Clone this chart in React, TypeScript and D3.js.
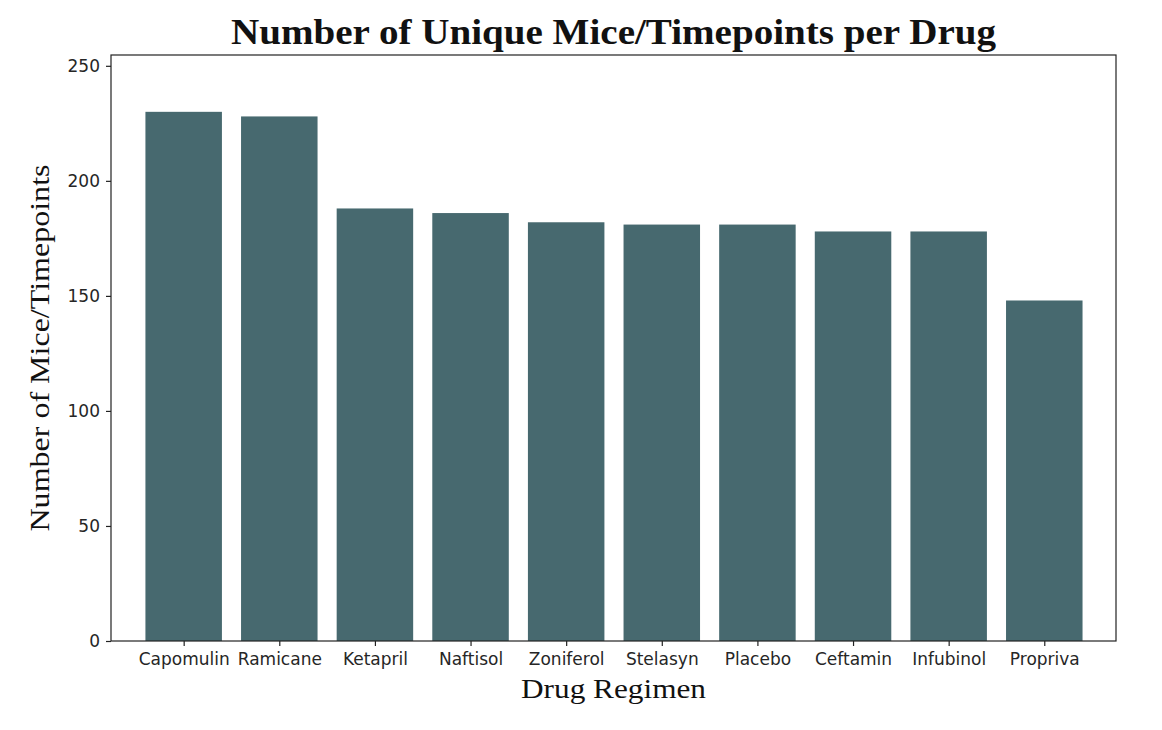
import React, { useEffect, useRef } from 'react';
import * as d3 from 'd3';

const drugs = [
  'Capomulin',
  'Ramicane',
  'Ketapril',
  'Naftisol',
  'Zoniferol',
  'Stelasyn',
  'Placebo',
  'Ceftamin',
  'Infubinol',
  'Propriva',
];
const counts = [230, 228, 188, 186, 182, 181, 181, 178, 178, 148];
const yTicks = [0, 50, 100, 150, 200, 250];

const W = 1162;
const H = 730;
const box = { left: 111, right: 1116, top: 55, bottom: 641 };
const barColor = '#47696f';
const serif = '"Liberation Serif", "DejaVu Serif", serif';
const sans = '"DejaVu Sans", sans-serif';

export default function App() {
  const ref = useRef<SVGSVGElement>(null);

  useEffect(() => {
    document.body.style.margin = '0';
    if (!ref.current) return;
    const svg = d3.select(ref.current);
    svg.selectAll('*').remove();

    const x = d3.scaleLinear().domain([-0.76, 9.75]).range([box.left, box.right]);
    const y = d3.scaleLinear().domain([0, 254.7]).range([box.bottom, box.top]);
    const barW = 0.8;

    svg
      .append('g')
      .selectAll('rect')
      .data(counts)
      .enter()
      .append('rect')
      .attr('x', (_, i) => x(i - barW / 2))
      .attr('width', x(barW) - x(0))
      .attr('y', (d) => y(d))
      .attr('height', (d) => y(0) - y(d))
      .attr('fill', barColor);

    // frame
    svg
      .append('rect')
      .attr('x', box.left)
      .attr('y', box.top)
      .attr('width', box.right - box.left)
      .attr('height', box.bottom - box.top)
      .attr('fill', 'none')
      .attr('stroke', '#222')
      .attr('stroke-width', 1.2);

    const xAxis = svg
      .append('g')
      .attr('transform', `translate(0, ${box.bottom})`)
      .call(
        d3
          .axisBottom(x)
          .tickValues(d3.range(drugs.length))
          .tickFormat((d) => drugs[d as number])
          .tickSize(5)
          .tickPadding(7)
      );
    xAxis.select('.domain').remove();
    xAxis.selectAll('line').attr('stroke', '#222').attr('stroke-width', 1.2);
    xAxis
      .selectAll('text')
      .attr('font-family', sans)
      .attr('font-size', 17)
      .attr('fill', '#262626');

    const yAxis = svg
      .append('g')
      .attr('transform', `translate(${box.left}, 0)`)
      .call(d3.axisLeft(y).tickValues(yTicks).tickSize(5).tickPadding(6));
    yAxis.select('.domain').remove();
    yAxis.selectAll('line').attr('stroke', '#222').attr('stroke-width', 1.2);
    yAxis
      .selectAll('text')
      .attr('font-family', sans)
      .attr('font-size', 17)
      .attr('fill', '#262626');

    // title
    svg
      .append('text')
      .attr('x', (box.left + box.right) / 2)
      .attr('y', 44)
      .attr('text-anchor', 'middle')
      .attr('font-family', serif)
      .attr('font-weight', 'bold')
      .attr('font-size', 35)
      .attr('textLength', 765)
      .attr('lengthAdjust', 'spacingAndGlyphs')
      .attr('fill', '#111')
      .text('Number of Unique Mice/Timepoints per Drug');

    // x label
    svg
      .append('text')
      .attr('x', (box.left + box.right) / 2)
      .attr('y', 698)
      .attr('text-anchor', 'middle')
      .attr('font-family', serif)
      .attr('font-size', 27)
      .attr('textLength', 185)
      .attr('lengthAdjust', 'spacingAndGlyphs')
      .attr('fill', '#111')
      .text('Drug Regimen');

    // y label
    svg
      .append('text')
      .attr('transform', `translate(49, ${(box.top + box.bottom) / 2}) rotate(-90)`)
      .attr('text-anchor', 'middle')
      .attr('font-family', serif)
      .attr('font-size', 27)
      .attr('textLength', 367)
      .attr('lengthAdjust', 'spacingAndGlyphs')
      .attr('fill', '#111')
      .text('Number of Mice/Timepoints');
  }, []);

  return <svg ref={ref} width={W} height={H} style={{ display: 'block', background: '#fff' }} />;
}
